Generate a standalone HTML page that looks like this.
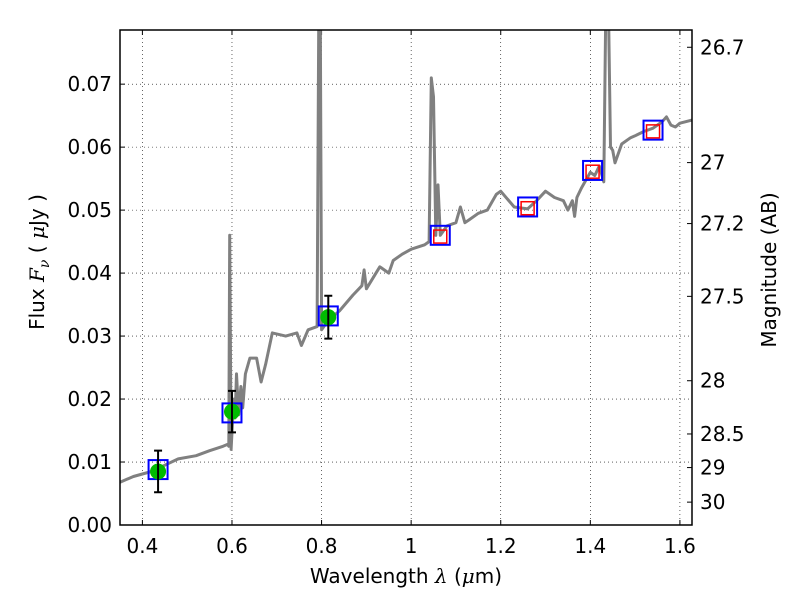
<!DOCTYPE html>
<html><head><meta charset="utf-8"><style>
body{margin:0;background:#fff;}
svg text{font-family:"DejaVu Sans","Liberation Sans",sans-serif;}
</style></head><body>
<svg id="c" width="800" height="600" xmlns="http://www.w3.org/2000/svg"></svg>
<script>
const xTicks=[0.4,0.6,0.8,1.0,1.2,1.4,1.6];
const xTickLabels=["0.4","0.6","0.8","1","1.2","1.4","1.6"];
const yTicks=[0,0.01,0.02,0.03,0.04,0.05,0.06,0.07];
const yTickLabels=["0.00","0.01","0.02","0.03","0.04","0.05","0.06","0.07"];
const magTicks=[26.7,27,27.2,27.5,28,28.5,29,30];
const specLam=[0.35,0.38,0.42,0.45,0.48,0.52,0.55,0.58,0.59,0.593,0.595,0.598,0.602,0.605,0.607,0.61,0.615,0.62,0.624,0.63,0.64,0.655,0.665,0.675,0.69,0.72,0.745,0.755,0.77,0.79,0.794,0.797,0.80,0.815,0.84,0.87,0.89,0.895,0.9,0.93,0.95,0.96,0.98,1.0,1.03,1.04,1.045,1.05,1.055,1.06,1.065,1.08,1.1,1.11,1.12,1.13,1.15,1.17,1.19,1.2,1.23,1.26,1.28,1.3,1.32,1.34,1.35,1.36,1.365,1.37,1.38,1.4,1.41,1.42,1.43,1.435,1.44,1.445,1.45,1.455,1.47,1.49,1.5,1.52,1.54,1.56,1.57,1.58,1.59,1.6,1.627];
const specFlux=[0.0068,0.0077,0.0085,0.0095,0.0105,0.011,0.0118,0.0125,0.0128,0.0125,0.046,0.012,0.0175,0.02,0.017,0.024,0.0175,0.022,0.0186,0.024,0.0265,0.0265,0.0227,0.0255,0.0305,0.030,0.0305,0.0285,0.031,0.0315,0.085,0.085,0.031,0.0325,0.034,0.0365,0.038,0.0405,0.0375,0.041,0.040,0.042,0.043,0.0438,0.0445,0.045,0.071,0.068,0.046,0.054,0.046,0.0475,0.048,0.0505,0.048,0.0485,0.0495,0.050,0.0525,0.053,0.0505,0.0502,0.0515,0.053,0.052,0.0515,0.050,0.0515,0.049,0.052,0.0535,0.056,0.0555,0.057,0.0545,0.085,0.085,0.060,0.0595,0.0575,0.0605,0.0615,0.0618,0.0625,0.063,0.064,0.0648,0.0635,0.0632,0.0638,0.0643];
const photLam=[0.435,0.60,0.815];
const photFlux=[0.0085,0.018,0.033];
const photErr=[0.0033,0.0033,0.0034];
const modelLam=[0.435,0.60,0.815,1.065,1.26,1.405,1.54];
const modelFlux=[0.0088,0.0178,0.0332,0.046,0.0505,0.0563,0.0627];
const synthLam=[1.065,1.26,1.405,1.54];
const synthFlux=[0.0458,0.0503,0.0561,0.0625];

const L=120,R=692,T=30,B=525,xmin=0.35,xmax=1.627,ymin=0,ymax=0.0786;
const X=v=>L+(v-xmin)/(xmax-xmin)*(R-L);
const Y=v=>B-(v-ymin)/(ymax-ymin)*(B-T);
const svg=document.getElementById('c');
const NS="http://www.w3.org/2000/svg";
function mk(tag,attrs,parent){const e=document.createElementNS(NS,tag);for(const k in attrs)e.setAttribute(k,attrs[k]);(parent||svg).appendChild(e);return e;}
const defs=mk('defs',{});const cp=mk('clipPath',{id:'clip'},defs);mk('rect',{x:L,y:T,width:R-L,height:B-T},cp);
const grid=mk('g',{});


xTicks.forEach((t,i)=>{
  const x=X(t);
  mk('line',{x1:x,x2:x,y1:T,y2:B,stroke:'#000','stroke-width':0.6,'stroke-dasharray':'1,3'},grid);
  mk('line',{x1:x,x2:x,y1:B,y2:B-5,stroke:'#000'});
  mk('line',{x1:x,x2:x,y1:T,y2:T+5,stroke:'#000'});
  const tx=mk('text',{x:x,y:B+28,'font-size':20,'text-anchor':'middle'});tx.textContent=xTickLabels[i];
  
  
});
yTicks.forEach((t,i)=>{
  const y=Y(t);
  mk('line',{x1:L,x2:R,y1:y,y2:y,stroke:'#000','stroke-width':0.6,'stroke-dasharray':'1,3'},grid);
  mk('line',{x1:L,x2:L+5,y1:y,y2:y,stroke:'#000'});
  const tx=mk('text',{x:L-8,y:y+7,'font-size':20,'text-anchor':'end'});tx.textContent=yTickLabels[i];
  
  
});
magTicks.forEach(m=>{
  const f=Math.pow(10,(23.9-m)/2.5);const y=Y(f);
  mk('line',{x1:R-5,x2:R,y1:y,y2:y,stroke:'#000'});
  const tx=mk('text',{x:R+8,y:y+7,'font-size':20});tx.textContent=String(m);
  
  
});
const g=mk('g',{'clip-path':'url(#clip)'});
const pts=specLam.map((l,i)=>X(l).toFixed(1)+','+Y(specFlux[i]).toFixed(1)).join(' ');
const sp=mk('polyline',{points:pts,fill:'none',stroke:'#808080','stroke-width':3,'stroke-linejoin':'round'},g);


modelLam.forEach((l,i)=>{
  const r=mk('rect',{x:X(l)-9.5,y:Y(modelFlux[i])-9.5,width:19,height:19,fill:'none',stroke:'#0000ff','stroke-width':2},g);
  
  
});
synthLam.forEach((l,i)=>{
  const r=mk('rect',{x:X(l)-6.5,y:Y(synthFlux[i])-6.5,width:13,height:13,fill:'none',stroke:'#ff0000','stroke-width':1.5},g);
  
  
});
photLam.forEach((l,i)=>{
  const x=X(l),y1=Y(photFlux[i]-photErr[i]),y2=Y(photFlux[i]+photErr[i]);
  const c=mk('circle',{cx:x,cy:Y(photFlux[i]),r:8,fill:'#00bb00'},g);
  
  
  const e=mk('path',{d:`M${x},${y1}V${y2}M${x-4},${y1}H${x+4}M${x-4},${y2}H${x+4}`,stroke:'#000','stroke-width':2,fill:'none'},g);
  
  
});
const fr=mk('rect',{x:L,y:T,width:R-L,height:B-T,fill:'none',stroke:'#000','stroke-width':1.5});


</script>
<svg width="800" height="600" style="position:absolute;left:0;top:0">
<text x="406" y="583" font-size="20" text-anchor="middle" font-family="DejaVu Sans, sans-serif">Wavelength  <tspan font-style="italic" font-family="DejaVu Serif, serif">λ</tspan> (<tspan font-style="italic" font-family="DejaVu Serif, serif">μ</tspan>m)</text>
<text transform="translate(44,262) rotate(-90)" font-size="20" text-anchor="middle" font-family="DejaVu Sans, sans-serif">Flux  <tspan font-style="italic" font-family="DejaVu Serif, serif">F<tspan font-size="14" dy="5">ν</tspan></tspan><tspan dy="-5">  (  </tspan><tspan font-style="italic" font-family="DejaVu Serif, serif">μ</tspan>Jy )</text>
<text transform="translate(776,270) rotate(-90)" font-size="20" text-anchor="middle" font-family="DejaVu Sans, sans-serif">Magnitude (AB)</text>
</svg>
</body></html>
